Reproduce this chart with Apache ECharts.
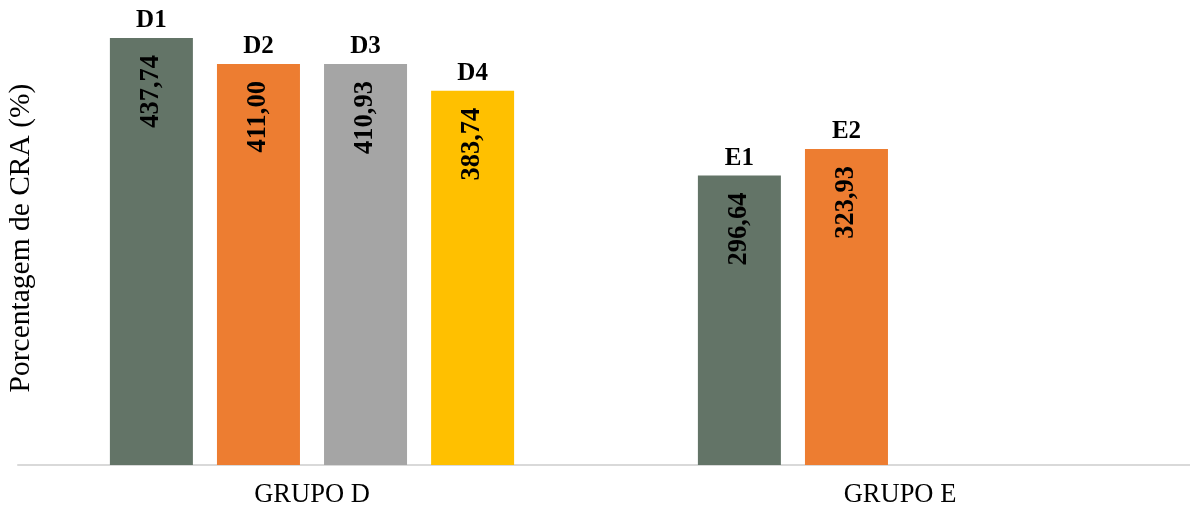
<!DOCTYPE html>
<html>
<head>
<meta charset="utf-8">
<script src="https://cdn.jsdelivr.net/npm/echarts@6/dist/echarts.min.js"></script>
<style>
  html, body { margin: 0; padding: 0; background: #fff; }
  #chart { width: 1190px; height: 511px; }
</style>
</head>
<body>
<div id="chart"></div>
<script>
// Groups on the category axis
const categories = ['GRUPO D', 'GRUPO E'];

// Sample names shown above each bar, per series slot
const names1 = ['D1', 'E1'];
const names2 = ['D2', 'E2'];
const names3 = ['D3', ''];
const names4 = ['D4', ''];

// CRA percentage for each series slot (group E has only two samples)
const values1 = [437.74, 296.64];
const values2 = [411.00, 323.93];
const values3 = [410.93, null];
const values4 = [383.74, null];

const colors = ['#637467', '#ED7D31', '#A5A5A5', '#FFC000'];
const FONT = '"Liberation Serif", "Times New Roman", serif';

function fmt(v) {
  return v.toFixed(2).replace('.', ',');
}

const slots = [
  { values: values1, names: names1, color: colors[0] },
  { values: values2, names: names2, color: colors[1] },
  { values: values3, names: names3, color: colors[2] },
  { values: values4, names: names4, color: colors[3] }
];

const series = [];
slots.forEach((slot, i) => {
  const stack = 'slot' + i;
  // The bar itself with its value written vertically inside the top
  series.push({
    type: 'bar',
    stack: stack,
    data: slot.values,
    barWidth: 83,
    barGap: '29%',
    itemStyle: { color: slot.color },
    label: {
      show: true,
      position: 'insideTop',
      distance: 17,
      rotate: 90,
      align: 'right',
      verticalAlign: 'middle',
      fontFamily: FONT,
      fontWeight: 'bold',
      fontSize: 26.5,
      color: '#000',
      formatter: p => (p.value == null ? '' : fmt(p.value))
    }
  });
  // Zero-height cap on the same stack that carries the sample name
  series.push({
    type: 'bar',
    stack: stack,
    data: slot.values.map(v => (v == null ? null : 0)),
    barWidth: 83,
    barGap: '29%',
    itemStyle: { color: 'rgba(0,0,0,0)' },
    silent: true,
    label: {
      show: true,
      position: 'top',
      distance: 5,
      fontFamily: FONT,
      fontWeight: 'bold',
      fontSize: 25,
      color: '#000',
      formatter: p => slot.names[p.dataIndex] || ''
    }
  });
});

const chart = echarts.init(document.getElementById('chart'));

chart.setOption({
  animation: false,
  grid: { left: 18, right: -4, top: 26, bottom: 46, containLabel: false, outerBoundsMode: 'none' },
  xAxis: {
    type: 'category',
    data: categories,
    axisLine: { show: true, lineStyle: { color: '#D9D9D9', width: 2 } },
    axisTick: { show: false },
    axisLabel: {
      fontFamily: FONT,
      fontSize: 26.5,
      color: '#000',
      margin: 17
    }
  },
  yAxis: {
    type: 'value',
    min: 0,
    max: 450,
    axisLine: { show: false },
    axisTick: { show: false },
    axisLabel: { show: false },
    splitLine: { show: false }
  },
  graphic: [{
    type: 'text',
    x: 21,
    y: 238,
    rotation: Math.PI / 2,
    style: {
      text: 'Porcentagem de CRA (%)',
      fontFamily: FONT,
      fontSize: 29.5,
      fill: '#000',
      align: 'center',
      verticalAlign: 'middle'
    }
  }],
  series: series
});
</script>
</body>
</html>
